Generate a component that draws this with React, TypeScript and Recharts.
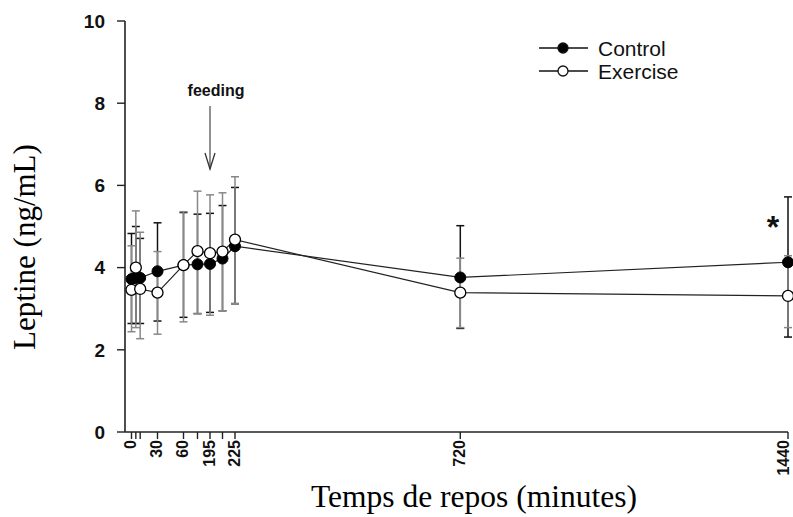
import React from 'react'
import {
  LineChart,
  Line,
  XAxis,
  YAxis,
  ErrorBar,
  Legend,
  ReferenceDot,
} from 'recharts'

// sampling times (minutes of rest)
const times = [0, 5, 10, 30, 60, 180, 195, 210, 225, 720, 1440]
const labeledTimes = [0, 30, 60, 195, 225, 720, 1440]

// leptine means (ng/mL)
const control = [3.72, 3.75, 3.75, 3.91, 4.06, 4.08, 4.09, 4.22, 4.52, 3.76, 4.13]
const exercise = [3.46, 4.0, 3.48, 3.39, 4.06, 4.4, 4.35, 4.39, 4.68, 3.39, 3.31]

// error bars as [below, above]
const controlErr = [
  [1.08, 1.11], [1.11, 1.25], [1.11, 0.96], [1.21, 1.18], [1.27, 1.28],
  [1.2, 1.22], [1.18, 1.23], [1.27, 1.29], [1.4, 1.43], [1.24, 1.26], [1.82, 1.59],
]
const exerciseErr = [
  [1.02, 1.07], [1.46, 1.38], [1.21, 1.38], [1.01, 1.0], [1.38, 1.3],
  [1.52, 1.46], [1.51, 1.42], [1.44, 1.43], [1.55, 1.53], [0.85, 0.84], [0.77, 0.98],
]

const yTicks = [0, 2, 4, 6, 8, 10]

// the time axis is broken: piecewise linear between these knots
const knotMinutes = [0, 60, 180, 225, 1440]
const knotUnits = [0, 52, 66, 103.5, 656.5]

function toAxis(t: number) {
  for (let i = 1; i < knotMinutes.length; i++) {
    if (t <= knotMinutes[i]) {
      const a = knotMinutes[i - 1]
      const b = knotMinutes[i]
      const f = (t - a) / (b - a)
      return knotUnits[i - 1] + f * (knotUnits[i] - knotUnits[i - 1])
    }
  }
  return knotUnits[knotUnits.length - 1]
}

const data = times.map((t, i) => ({
  pos: toAxis(t),
  control: control[i],
  exercise: exercise[i],
  controlErr: controlErr[i],
  exerciseErr: exerciseErr[i],
}))

const tickPositions = times.map(toAxis)

const sans = '"Liberation Sans", Arial, sans-serif'
const serif = '"Liberation Serif", "Times New Roman", serif'

function TimeTick(props: any) {
  const { x, y, payload } = props
  const idx = tickPositions.indexOf(payload.value)
  const t = times[idx]
  if (!labeledTimes.includes(t)) return null
  // last label sits on the right edge, nudge it inward a little
  const dy = x > 780 ? '0.05em' : '0.3em'
  return (
    <text
      x={x}
      y={y}
      transform={`rotate(-90, ${x}, ${y})`}
      textAnchor="end"
      dy={dy}
      fontFamily={sans}
      fontWeight="bold"
      fontSize={16}
      fill="#111"
    >
      {t}
    </text>
  )
}

function LegendBox() {
  const rows = [
    { name: 'Control', fill: '#000' },
    { name: 'Exercise', fill: '#fff' },
  ]
  return (
    <svg width={180} height={60}>
      {rows.map((r, i) => (
        <g key={r.name} transform={`translate(1, ${14 + i * 23})`}>
          <line x1={0} x2={49} y1={0} y2={0} stroke="#111" strokeWidth={1.5} />
          <circle cx={24} cy={0} r={5} fill={r.fill} stroke="#111" strokeWidth={1.3} />
          <text
            x={59}
            y={0}
            dy="0.36em"
            fontFamily={sans}
            fontSize={21}
            fill="#111"
          >
            {r.name}
          </text>
        </g>
      ))}
    </svg>
  )
}

function FeedingArrow(props: any) {
  const { cx, cy } = props
  return (
    <g>
      <line x1={cx} y1={cy - 63} x2={cx} y2={cy} stroke="#555" strokeWidth={1.3} />
      <polyline
        points={`${cx - 5},${cy - 16} ${cx},${cy} ${cx + 5},${cy - 16}`}
        fill="none"
        stroke="#333"
        strokeWidth={1.3}
      />
      <text
        x={cx + 6}
        y={cy - 79}
        textAnchor="middle"
        dy="0.36em"
        fontFamily={sans}
        fontWeight="bold"
        fontSize={16}
        fill="#111"
      >
        feeding
      </text>
    </g>
  )
}

function Star(props: any) {
  const { cx, cy } = props
  return (
    <text
      x={cx - 15}
      y={cy + 15}
      textAnchor="middle"
      fontFamily={sans}
      fontWeight="bold"
      fontSize={32}
      fill="#111"
    >
      *
    </text>
  )
}

export default function App() {
  return (
    <div
      style={{
        position: 'absolute',
        left: 0,
        top: 0,
        width: 793,
        height: 517,
        background: '#fff',
      }}
    >
      <LineChart
        width={793}
        height={517}
        data={data}
        margin={{ top: 21, right: 5, bottom: 45, left: 0 }}
      >
        <XAxis
          dataKey="pos"
          type="number"
          domain={[-6.5, 656.5]}
          ticks={tickPositions}
          interval={0}
          height={40}
          tick={<TimeTick />}
          tickSize={7}
          tickMargin={1}
          axisLine={{ stroke: '#222', strokeWidth: 1.6 }}
          tickLine={{ stroke: '#222', strokeWidth: 1.4 }}
          label={{
            content: () => (
              <text
                x={474}
                y={507}
                textAnchor="middle"
                fontFamily={serif}
                fontSize={31.5}
                fill="#000"
              >
                Temps de repos (minutes)
              </text>
            ),
          }}
        />
        <YAxis
          type="number"
          domain={[0, 10]}
          ticks={yTicks}
          width={125}
          tickSize={8}
          tickMargin={12}
          tick={{ fontFamily: sans, fontWeight: 'bold', fontSize: 19, fill: '#111' }}
          axisLine={{ stroke: '#222', strokeWidth: 1.6 }}
          tickLine={{ stroke: '#222', strokeWidth: 1.4 }}
          label={{
            content: () => (
              <text
                x={35}
                y={247}
                transform="rotate(-90, 35, 247)"
                textAnchor="middle"
                fontFamily={serif}
                fontSize={31}
                fill="#000"
              >
                Leptine (ng/mL)
              </text>
            ),
          }}
        />
        <Legend
          layout="vertical"
          align="center"
          verticalAlign="middle"
          content={<LegendBox />}
          wrapperStyle={{ position: 'absolute', left: 538, top: 34, width: 180 }}
        />
        <Line
          dataKey="control"
          name="Control"
          stroke="#222"
          strokeWidth={1.2}
          dot={{ r: 5.5, fill: '#000', stroke: '#000', strokeWidth: 1 }}
          isAnimationActive={false}
        >
          <ErrorBar
            dataKey="controlErr"
            direction="y"
            width={4}
            stroke="#111"
            strokeWidth={1.5}
            isAnimationActive={false}
          />
        </Line>
        <Line
          dataKey="exercise"
          name="Exercise"
          stroke="#222"
          strokeWidth={1.2}
          dot={{ r: 5.5, fill: '#fff', stroke: '#000', strokeWidth: 1.3 }}
          isAnimationActive={false}
        >
          <ErrorBar
            dataKey="exerciseErr"
            direction="y"
            width={4}
            stroke="#888"
            strokeWidth={1.5}
            isAnimationActive={false}
          />
        </Line>
        <ReferenceDot x={toAxis(195)} y={6.4} r={0} shape={<FeedingArrow />} />
        <ReferenceDot x={toAxis(1440)} y={5.09} r={0} shape={<Star />} />
      </LineChart>
    </div>
  )
}
